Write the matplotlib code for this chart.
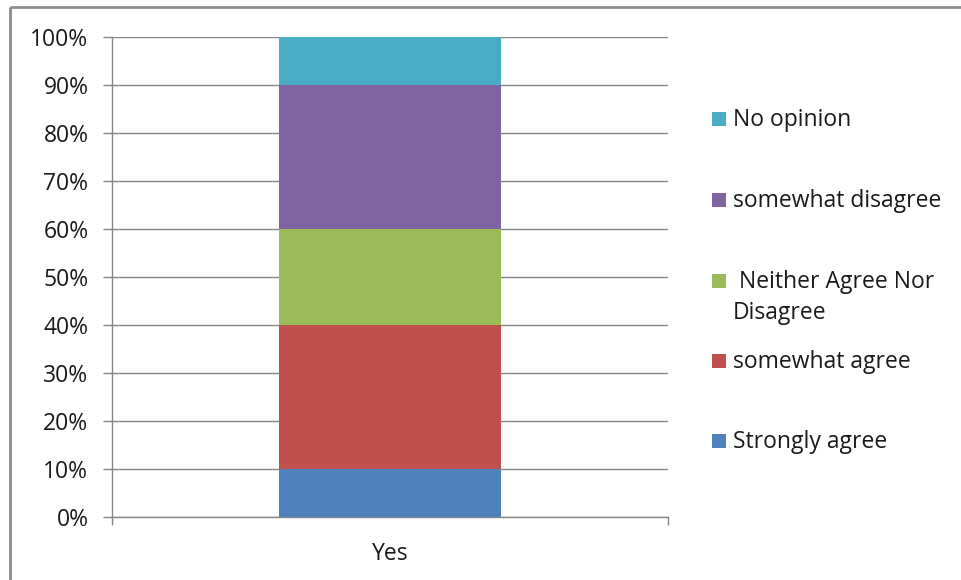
import matplotlib
matplotlib.use("Agg")
import matplotlib.pyplot as plt
from matplotlib.patches import Rectangle
from matplotlib.ticker import FuncFormatter, FixedLocator

# Data (shares of responses, stacked bottom -> top)
categories = ["Yes"]
series_names = ["Strongly agree", "somewhat agree", " Neither Agree Nor\nDisagree",
                "somewhat disagree", "No opinion"]
series_values = [0.10, 0.30, 0.20, 0.30, 0.10]
series_colors = ["#4F81BD", "#C0504D", "#9BBB59", "#8064A2", "#4BACC6"]
y_ticks = [i / 10 for i in range(11)]

plt.rcParams["font.family"] = ["Open Sans", "DejaVu Sans"]
FONT = 16.5
GREY = "#868686"
W, H = 961, 580

fig = plt.figure(figsize=(W / 100, H / 100), dpi=100)

# plot area in pixel coords of the reference
x0, x1, y0, y1 = 112, 668, 37, 517
ax = fig.add_axes([x0 / W, 1 - y1 / H, (x1 - x0) / W, (y1 - y0) / H])

bottom = 0.0
for name, val, col in zip(series_names, series_values, series_colors):
    ax.bar(0, val, width=0.4, bottom=bottom, color=col, label=name, zorder=3)
    bottom += val

ax.set_xlim(-0.5, 0.5)
ax.set_ylim(0, 1)
ax.set_yticks(y_ticks)
ax.yaxis.set_major_formatter(FuncFormatter(lambda v, _: f"{v * 100:.0f}%"))
ax.grid(axis="y", color=GREY, linewidth=1.0, zorder=0)
ax.tick_params(axis="y", length=6.5, width=1.0, color=GREY, pad=10.5,
               labelsize=FONT, labelcolor="#1a1a1a")

# category axis: tick marks at the edges, label in the middle
ax.xaxis.set_major_locator(FixedLocator([-0.5, 0.5]))
ax.xaxis.set_major_formatter(FuncFormatter(lambda v, _: ""))
ax.set_xticks([0], labels=categories, minor=True)
ax.tick_params(axis="x", which="major", length=6, width=1.0, color=GREY)
ax.tick_params(axis="x", which="minor", length=0, pad=18,
               labelsize=FONT, labelcolor="#1a1a1a")

for side in ("top", "right"):
    ax.spines[side].set_visible(False)
for side in ("left", "bottom"):
    ax.spines[side].set_color(GREY)
    ax.spines[side].set_linewidth(1.0)

# overlay in pixel coords for the outer border (behind) and legend (front)
ov = fig.add_axes([0, 0, 1, 1], zorder=-1)
ov.set_xlim(0, W)
ov.set_ylim(H, 0)
ov.axis("off")
ov.add_patch(Rectangle((10, 7), 1200, 1200, fill=False, edgecolor="#8c8c8c",
                       linewidth=2.0))

ov_top = fig.add_axes([0, 0, 1, 1])
ov_top.set_xlim(0, W)
ov_top.set_ylim(H, 0)
ov_top.axis("off")
ov_top.patch.set_visible(False)

legend_y = [441, 361, 281, 200, 119]
for name, col, yc in zip(series_names, series_colors, legend_y):
    ov_top.add_patch(Rectangle((712, yc - 7), 14, 14, facecolor=col, edgecolor="none"))
    ov_top.text(733, yc - 11, name, fontsize=FONT, color="#1a1a1a",
                va="top", ha="left", linespacing=1.38)

fig.savefig("out.png", dpi=100)
